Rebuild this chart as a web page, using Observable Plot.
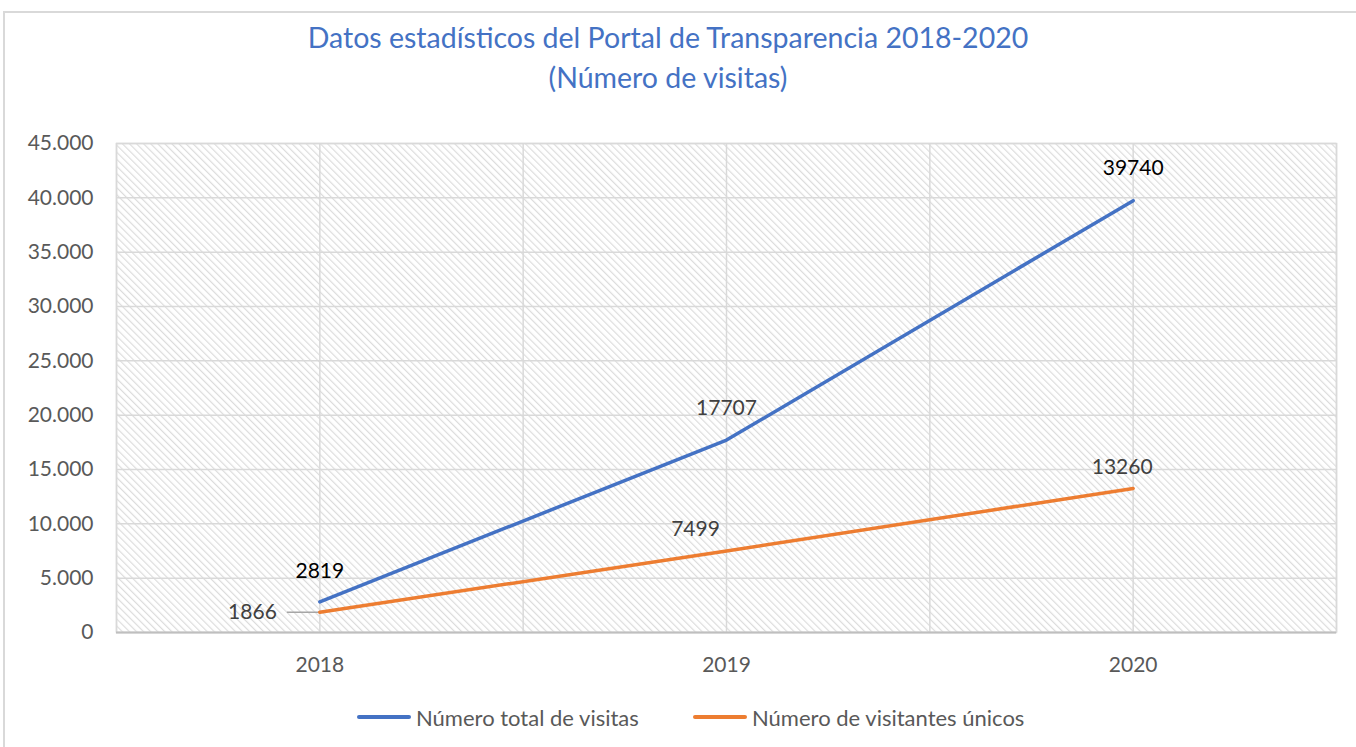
<!DOCTYPE html>
<html>
<head>
<meta charset="utf-8">
<script src="https://cdn.jsdelivr.net/npm/d3@7"></script>
<script src="https://cdn.jsdelivr.net/npm/@observablehq/plot@0.6"></script>
<style>
  html, body { margin: 0; padding: 0; background: #fff; overflow: hidden; }
  body { width: 1356px; height: 747px; position: relative; font-family: Lato, "Open Sans", sans-serif; }
  #border { position: absolute; left: 3px; top: 11px; width: 1400px; height: 800px; border-left: 2px solid #d9d9d9; border-top: 2px solid #d9d9d9; box-sizing: border-box; }
  #title { position: absolute; left: 0; top: 17px; width: 1336px; text-align: center; color: #4472C4; font-size: 28.5px; line-height: 40px; }
  #chart { position: absolute; left: 0; top: 100px; }
  #legend { position: absolute; left: 0; top: 703px; width: 1356px; font-size: 22px; color: #595959; }
  .item { position: absolute; top: 0; display: flex; align-items: center; height: 28px; }
  .sw { width: 54px; height: 4px; border-radius: 2px; margin-right: 5px; }
</style>
</head>
<body>
<div id="border"></div>
<div id="title">Datos estadísticos del Portal de Transparencia 2018-2020<br>(Número de visitas)</div>
<div id="chart"></div>
<div id="legend"></div>
<script>
const years = [2018, 2019, 2020];
const totalVisits = [2819, 17707, 39740];
const uniqueVisitors = [1866, 7499, 13260];
const seriesNames = ["Número total de visitas", "Número de visitantes únicos"];
const seriesColors = ["#4472C4", "#ED7D31"];
const yTicks = [0, 5000, 10000, 15000, 20000, 25000, 30000, 35000, 40000, 45000];

const rows = [];
years.forEach((yr, i) => {
  rows.push({year: yr, value: totalVisits[i], series: seriesNames[0]});
  rows.push({year: yr, value: uniqueVisitors[i], series: seriesNames[1]});
});

const locale = d3.formatLocale({decimal: ",", thousands: ".", grouping: [3], currency: ["", "€"]});
const fmt = locale.format(",d");

// band boundaries + centers for vertical grid lines
const xGrid = d3.range(years[0] - 0.5, years[years.length - 1] + 0.51, 0.5);

const lbl = (arr, i, opts) => Plot.text([{year: years[i], value: arr[i]}], {
  x: "year", y: "value", text: d => String(d.value), fontSize: 21, ...opts
});

const chart = Plot.plot({
  width: 1356,
  height: 600,
  marginLeft: 116,
  marginRight: 20,
  marginTop: 43,
  marginBottom: 68,
  style: {fontFamily: "Lato, 'Open Sans', sans-serif", background: "transparent", overflow: "visible"},
  x: {type: "linear", domain: [years[0] - 0.5, years[years.length - 1] + 0.5], label: null},
  y: {domain: [0, 45000], label: null},
  color: {domain: seriesNames, range: seriesColors},
  marks: [
    Plot.frame({fill: "url(#hatch)", stroke: "#d9d9d9", strokeWidth: 1.5}),
    Plot.gridY(yTicks, {stroke: "#d9d9d9", strokeOpacity: 1, strokeWidth: 1.5}),
    Plot.gridX(xGrid, {stroke: "#d9d9d9", strokeOpacity: 1, strokeWidth: 1.5}),
    Plot.ruleY([0], {stroke: "#bfbfbf", strokeWidth: 2}),
    Plot.axisY(yTicks, {tickSize: 0, tickPadding: 23, tickFormat: fmt, fontSize: 21, fill: "#595959", label: null}),
    Plot.axisX(years, {tickSize: 0, tickPadding: 25, tickFormat: d => String(d), fontSize: 21, fill: "#595959", label: null}),
    Plot.link([{year: years[0], value: uniqueVisitors[0]}], {
      x1: d => d.year - 0.081, x2: "year", y1: "value", y2: "value", stroke: "#a6a6a6", strokeWidth: 1.5
    }),
    Plot.line(rows, {x: "year", y: "value", z: "series", stroke: "series", strokeWidth: 3.5, strokeLinecap: "round", strokeLinejoin: "round"}),
    lbl(totalVisits, 0, {dy: -31, fill: "#000"}),
    lbl(totalVisits, 1, {dy: -32, dx: 0, fill: "#404040"}),
    lbl(totalVisits, 2, {dy: -32, dx: 0, fill: "#000"}),
    lbl(uniqueVisitors, 0, {dx: -43, dy: 0, textAnchor: "end", fill: "#404040"}),
    lbl(uniqueVisitors, 1, {dx: -31, dy: -22, fill: "#404040"}),
    lbl(uniqueVisitors, 2, {dx: -11, dy: -21, fill: "#404040"})
  ]
});

const svg = d3.select(chart);
const pat = svg.insert("defs", ":first-child").append("pattern")
  .attr("id", "hatch").attr("patternUnits", "userSpaceOnUse")
  .attr("width", 5).attr("height", 5)
  .attr("patternTransform", "rotate(-45)");
pat.append("rect").attr("width", 5).attr("height", 5).attr("fill", "#ffffff");
pat.append("line").attr("x1", 0).attr("y1", 0).attr("x2", 0).attr("y2", 5)
  .attr("stroke", "#dcdcdc").attr("stroke-width", 2.4);

document.getElementById("chart").appendChild(chart);

// legend
const legend = document.getElementById("legend");
const legendX = [357, 693];
seriesNames.forEach((name, i) => {
  const it = document.createElement("div");
  it.className = "item";
  it.style.left = legendX[i] + "px";
  const sw = document.createElement("div");
  sw.className = "sw";
  sw.style.background = seriesColors[i];
  const t = document.createElement("span");
  t.textContent = name;
  it.appendChild(sw); it.appendChild(t);
  legend.appendChild(it);
});
</script>
</body>
</html>
